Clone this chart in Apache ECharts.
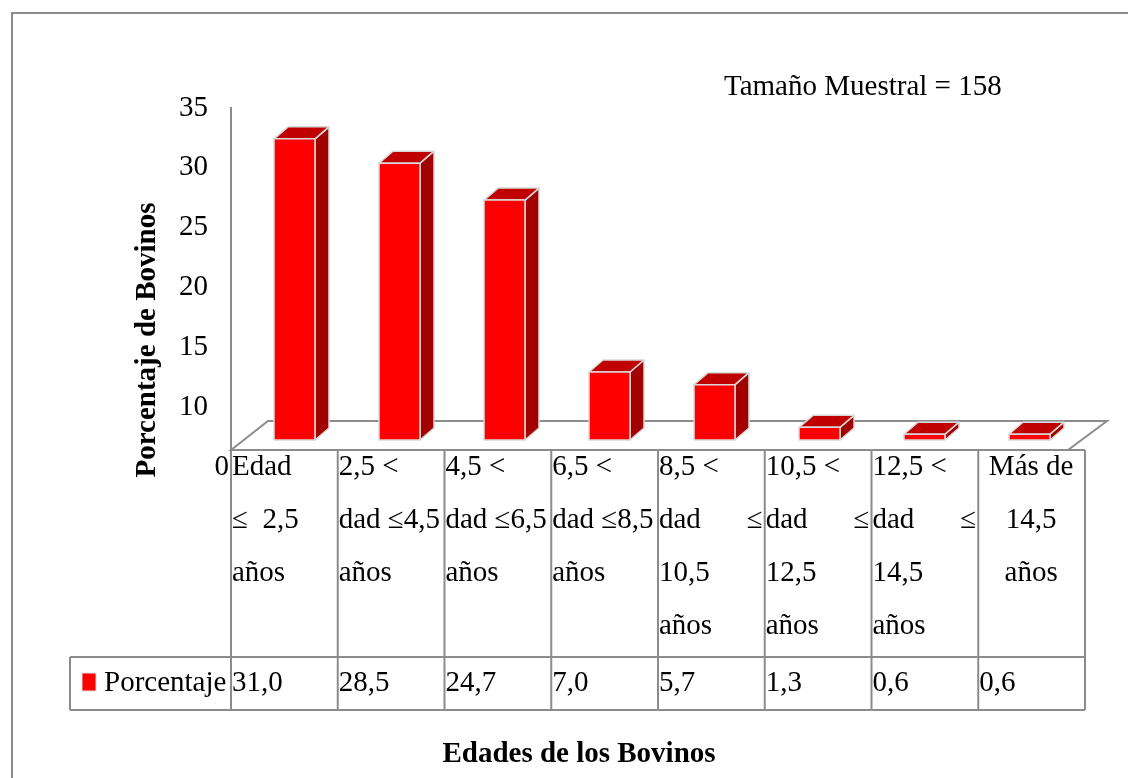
<!DOCTYPE html>
<html>
<head>
<meta charset="utf-8">
<script src="https://cdn.jsdelivr.net/npm/echarts@6/dist/echarts.min.js"></script>
<style>
  html, body { margin: 0; padding: 0; background: #fff; }
  #main { width: 1128px; height: 778px; }
</style>
</head>
<body>
<div id="main"></div>
<script>
// datos del gráfico
const categories = [
  'Edad\n≤  2,5\naños',
  '2,5 <\ndad ≤4,5\naños',
  '4,5 <\ndad ≤6,5\naños',
  '6,5 <\ndad ≤8,5\naños',
  '8,5 <\ndad\t≤\n10,5\naños',
  '10,5 <\ndad\t≤\n12,5\naños',
  '12,5 <\ndad\t≤\n14,5\naños',
  'Más de\n14,5\naños'
]
const values = [31.0, 28.5, 24.7, 7.0, 5.7, 1.3, 0.6, 0.6]
const yTicks = ['0', '10', '15', '20', '25', '30', '35']
const seriesName = 'Porcentaje'

const FONT = "'Liberation Serif', 'Times New Roman', serif"
const FS = 29
const GRAY = '#8c8c8c'

function renderBar(params, api) {
  const top = api.coord([api.value(0), api.value(1)])
  const base = api.coord([api.value(0), 0])
  const band = api.size([1, 0])[0]
  const w = band * 0.39
  const x0 = top[0] - w / 2, x1 = x0 + w
  const dx = 14, dy = 12
  const st = { stroke: '#d9d9d9', lineWidth: 1.5, lineJoin: 'round' }
  return {
    type: 'group',
    children: [
      { type: 'polygon', shape: { points: [[x1, top[1]], [x1 + dx, top[1] - dy], [x1 + dx, base[1] - dy], [x1, base[1]]] },
        style: Object.assign({ fill: '#a30000' }, st) },
      { type: 'polygon', shape: { points: [[x0, top[1]], [x0 + dx, top[1] - dy], [x1 + dx, top[1] - dy], [x1, top[1]]] },
        style: Object.assign({ fill: '#c00000' }, st) },
      { type: 'rect', shape: { x: x0, y: top[1], width: w, height: base[1] - top[1] },
        style: Object.assign({ fill: '#ff0000' }, st) }
    ]
  }
}

const chart = echarts.init(document.getElementById('main'))

chart.setOption({
  animation: false,
  grid: [
    { left: 242, right: 46, top: 100, bottom: 338 },   // barras
    { left: 231, right: 43, top: 100, bottom: 338 },   // tabla
    { left: 231, right: 43, top: 108, bottom: 311 }    // etiquetas eje y
  ],
  xAxis: [
    { type: 'category', gridIndex: 0, data: categories, show: false },
    { type: 'category', gridIndex: 1, data: categories, show: false },
    { type: 'value', gridIndex: 2, show: false }
  ],
  yAxis: [
    { type: 'value', gridIndex: 0, min: 0, max: 35, show: false },
    { type: 'value', gridIndex: 1, min: 0, max: 35, show: false },
    {
      type: 'category', gridIndex: 2, data: yTicks, boundaryGap: false,
      axisLine: { show: false }, axisTick: { show: false }, splitLine: { show: false },
      axisLabel: {
        margin: 2, fontFamily: FONT, fontSize: FS, color: '#000',
        formatter: v => v === '0' ? '{z|0}' : '{n|' + v + '}',
        rich: {
          z: { fontFamily: FONT, fontSize: FS, color: '#000' },
          n: { fontFamily: FONT, fontSize: FS, color: '#000', padding: [0, 21, 0, 0] }
        }
      }
    }
  ],
  series: [{
    name: seriesName,
    type: 'custom',
    xAxisIndex: 0,
    yAxisIndex: 0,
    renderItem: renderBar,
    encode: { x: 0, y: 1 },
    data: values.map((v, i) => [i, v])
  }]
})

// tabla de datos y marco 3D
const c0 = chart.convertToPixel({ xAxisIndex: 1 }, 0)
const band = chart.convertToPixel({ xAxisIndex: 1 }, 1) - c0
const xs = categories.map((c, i) => c0 - band / 2 + i * band)
xs.push(c0 - band / 2 + categories.length * band)
const tLeft = xs[0], tRight = xs[xs.length - 1]
const rowTop = 450, rowMid = 657, rowBot = 710, lineH = 53
const lineStyle = { stroke: GRAY, lineWidth: 2 }
const txt = (x, y, s, align, extra) => ({
  type: 'text', x: x, y: y,
  style: Object.assign({ text: s, font: FS + 'px ' + FONT, fill: '#000', align: align || 'left', verticalAlign: 'middle' }, extra || {})
})

const g = []
g.push({ type: 'rect', shape: { x: 12, y: 13, width: 1300, height: 900 }, style: { fill: 'none', stroke: GRAY, lineWidth: 2 } })
// pared y piso
g.push({ type: 'polyline', shape: { points: [[tLeft, 107], [tLeft, rowTop]] }, style: lineStyle })
g.push({ type: 'polygon', shape: { points: [[tLeft, rowTop], [tLeft + 37, 421], [1107, 421], [1068, rowTop]] }, style: { fill: 'none', stroke: GRAY, lineWidth: 2 } })
// líneas de la tabla
g.push({ type: 'line', shape: { x1: tLeft, y1: rowTop, x2: tRight, y2: rowTop }, style: lineStyle })
g.push({ type: 'line', shape: { x1: 70, y1: rowMid, x2: tRight, y2: rowMid }, style: lineStyle })
g.push({ type: 'line', shape: { x1: 70, y1: rowBot, x2: tRight, y2: rowBot }, style: lineStyle })
g.push({ type: 'line', shape: { x1: 70, y1: rowMid, x2: 70, y2: rowBot }, style: lineStyle })
xs.forEach(x => g.push({ type: 'line', shape: { x1: x, y1: rowTop, x2: x, y2: rowBot }, style: lineStyle }))

categories.forEach((c, i) => {
  const l = xs[i] + 1, r = xs[i + 1] - 2
  c.split('\n').forEach((line, k) => {
    const y = 467 + k * lineH
    if (c.startsWith('Más')) {
      g.push(txt((l + r) / 2, y, line, 'center'))
    } else if (line.includes('\t')) {
      const parts = line.split('\t')
      g.push(txt(l, y, parts[0]))
      g.push(txt(r, y, parts[1], 'right'))
    } else {
      g.push(txt(l, y, line))
    }
  })
  g.push(txt(l, 683, values[i].toFixed(1).replace('.', ',')))
})
// leyenda en la tabla
g.push({ type: 'rect', shape: { x: 82, y: 673, width: 14, height: 18 }, style: { fill: '#ff0000', stroke: '#dddddd', lineWidth: 1 } })
g.push(txt(104, 683, seriesName))

// títulos
g.push(txt(724, 87, 'Tamaño Muestral = 158'))
g.push(txt(579, 755, 'Edades de los Bovinos', 'center', { font: 'bold ' + FS + 'px ' + FONT }))
g.push({ type: 'text', x: 148, y: 340, rotation: Math.PI / 2,
  style: { text: 'Porcentaje de Bovinos', font: 'bold ' + FS + 'px ' + FONT, fill: '#000', align: 'center', verticalAlign: 'middle' } })

chart.setOption({ graphic: g })
</script>
</body>
</html>
